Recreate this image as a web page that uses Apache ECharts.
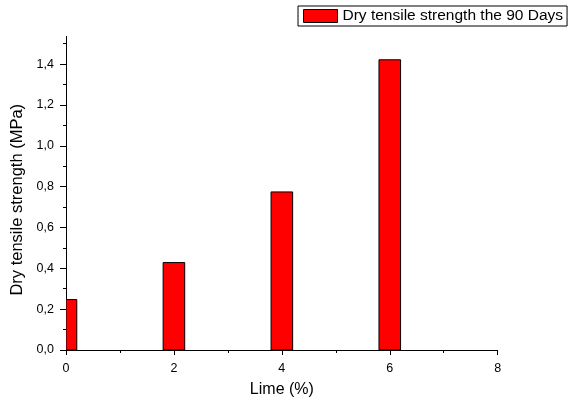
<!DOCTYPE html>
<html>
<head>
<meta charset="utf-8">
<script src="https://cdn.jsdelivr.net/npm/echarts@6/dist/echarts.min.js"></script>
<style>html,body{margin:0;padding:0;background:#fff;}#c{width:568px;height:403px;}</style>
</head>
<body>
<div id="c"></div>
<script>
var limePercent = [0, 2, 4, 6];
var strength = [0.247, 0.428, 0.774, 1.421];
var seriesName = 'Dry tensile strength the 90 Days';
var xTicks = [0, 2, 4, 6, 8];
var yMajorTicks = [0, 0.2, 0.4, 0.6, 0.8, 1.0, 1.2, 1.4];
var yMinorTicks = [0.1, 0.3, 0.5, 0.7, 0.9, 1.1, 1.3, 1.5];
var barHalfWidth = 0.2;

var FONT = '"Liberation Sans", Arial, sans-serif';
var chart = echarts.init(document.getElementById('c'));
var data = limePercent.map(function (x, i) { return [x, strength[i]]; });

chart.setOption({
  animation: false,
  backgroundColor: '#fff',
  textStyle: { fontFamily: FONT, color: '#000' },
  grid: { left: 66, right: 70.3, top: 36.5, bottom: 50.5, containLabel: false },
  legend: {
    left: 298, top: 6,
    padding: [2, 4, 2, 5],
    borderColor: '#000', borderWidth: 1,
    itemWidth: 34, itemHeight: 13, itemGap: 5,
    icon: 'rect',
    itemStyle: { borderColor: '#000', borderWidth: 1 },
    textStyle: { fontFamily: FONT, fontSize: 15.5, color: '#000', lineHeight: 14, padding: [0, 0, 0, 0] },
    data: [seriesName]
  },
  xAxis: {
    type: 'value', min: 0, max: 8, interval: 2,
    name: 'Lime (%)', nameLocation: 'middle', nameGap: 32,
    nameTextStyle: { fontFamily: FONT, fontSize: 16, color: '#000' },
    axisLine: { show: true, lineStyle: { color: '#000', width: 1 } },
    axisTick: { show: true, inside: false, length: 5, lineStyle: { color: '#000' } },
    minorTick: { show: true, splitNumber: 2, length: 3, lineStyle: { color: '#000' } },
    splitLine: { show: false },
    axisLabel: { fontFamily: FONT, fontSize: 12.5, color: '#000', margin: 12,
      customValues: xTicks }
  },
  yAxis: [{
    type: 'value', min: 0, max: 1.535, position: 'left',
    name: 'Dry tensile strength (MPa)', nameLocation: 'middle', nameGap: 38,
    nameTextStyle: { fontFamily: FONT, fontSize: 16.5, color: '#000', padding: [0, 13, 0, 0] },
    axisLine: { show: true, lineStyle: { color: '#000', width: 1 } },
    axisTick: { show: true, inside: false, length: 6, customValues: yMajorTicks, lineStyle: { color: '#000' } },
    splitLine: { show: false },
    axisLabel: { fontFamily: FONT, fontSize: 12.5, color: '#000', margin: 12,
      customValues: yMajorTicks,
      formatter: function (v) { return v.toFixed(1).replace('.', ','); } }
  }, {
    type: 'value', min: 0, max: 1.535, position: 'left', offset: 0,
    axisLine: { show: false },
    axisTick: { show: true, inside: false, length: 3, customValues: yMinorTicks, lineStyle: { color: '#000' } },
    splitLine: { show: false },
    axisLabel: { show: false }
  }],
  series: [{
    type: 'custom',
    name: seriesName,
    xAxisIndex: 0, yAxisIndex: 0,
    itemStyle: { color: '#ff0000' },
    clip: true,
    data: data,
    renderItem: function (params, api) {
      var x = api.value(0), y = api.value(1);
      var p1 = api.coord([x - barHalfWidth, y]);
      var p2 = api.coord([x + barHalfWidth, 0]);
      var rect = echarts.graphic.clipRectByRect(
        { x: p1[0], y: p1[1], width: p2[0] - p1[0], height: p2[1] - p1[1] },
        { x: params.coordSys.x, y: params.coordSys.y, width: params.coordSys.width, height: params.coordSys.height + 1 }
      );
      if (!rect) return;
      return { type: 'rect', shape: rect, style: { fill: '#ff0000', stroke: '#000', lineWidth: 1 } };
    }
  }]
});
</script>
</body>
</html>
